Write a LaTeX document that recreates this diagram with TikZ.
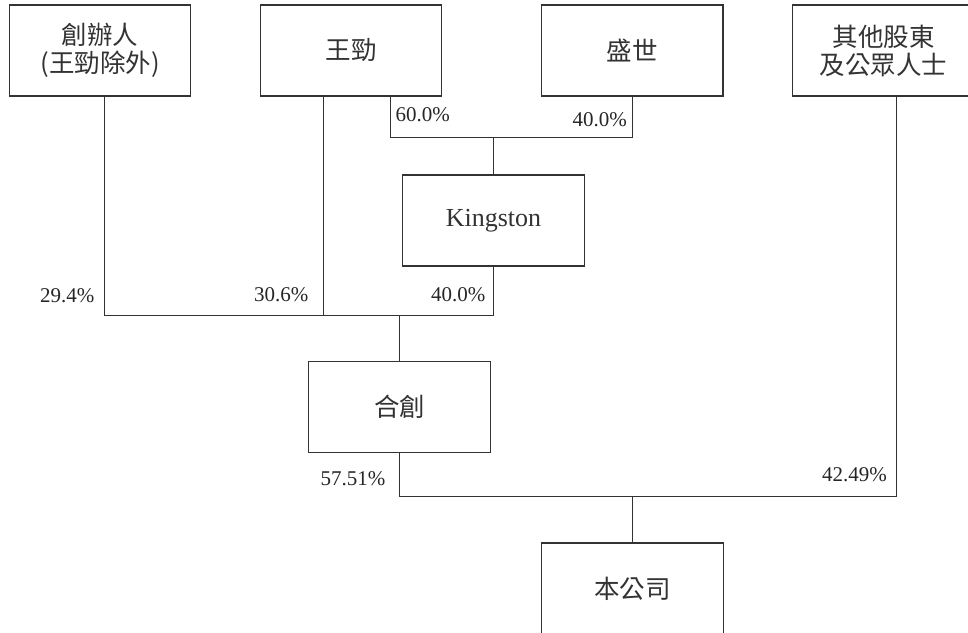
\documentclass[tikz,border=0pt]{standalone}
\usepackage{fontspec}
\setmainfont{Liberation Serif}
\newfontfamily\cjk{Noto Sans CJK TC}
\tikzset{
  box/.style={draw=black!80, line width=1.2pt, minimum width=181.5pt, minimum height=91pt,
    inner sep=0pt, align=center, font=\cjk\fontsize{25.5}{28}\selectfont, text=black!80},
  link/.style={draw=black!80, line width=1pt},
  pct/.style={font=\fontsize{21}{24}\selectfont, inner sep=0pt, text=black!85}
}
\begin{document}
\begin{tikzpicture}[x=1pt,y=-1pt]
\useasboundingbox (0,0) rectangle (968,632);
\clip (0,0) rectangle (968,632);
% boxes
\node[box] (fd) at (100,50.5) {創辦人\\(王勁除外)};
\node[box] (wj) at (351,50.5) {王勁};
\node[box] (ss) at (632.3,50.5) {盛世};
\node[box] (qt) at (883.5,50.5) {其他股東\\及公眾人士};
\node[box, font=\fontsize{26}{30}\selectfont] (ks) at (493.5,220.5) {Kingston};
\node[box] (hc) at (399.5,407) {合創};
\node[box] (bg) at (632.4,588.5) {本公司};
% junction points
\coordinate (jA) at (104,315);
\coordinate (jB) at (323,315);
\coordinate (tW) at (390.7,137);
\coordinate (bH) at (400,496.7);
\coordinate (bQ) at (896,496.7);
% connectors
\draw[link] (fd.south -| jA) -- (jA) -| (ks.south);
\draw[link] (wj.south -| jB) -- (jB);
\draw[link] (wj.south -| tW) -- (tW) -| (ss.south);
\draw[link] (ks.north |- tW) -- (ks.north);
\draw[link] (hc.north |- jA) -- (hc.north);
\draw[link] (hc.south) -- (hc.south |- bH) -- (bQ) -- (qt.south -| bQ);
\draw[link] (bg.north |- bH) -- (bg.north);
% labels
\node[pct, anchor=east] (p1) at (94.5,295.5) {29.4\%};
\node[pct, anchor=east] (p2) at (308.5,295) {30.6\%};
\node[pct, anchor=east] (p3) at (485.5,295) {40.0\%};
\node[pct, anchor=west] (p4) at (395.5,115) {60.0\%};
\node[pct, anchor=east] (p5) at (627,120) {40.0\%};
\node[pct, anchor=east] (p6) at (385.5,479) {57.51\%};
\node[pct, anchor=east] (p7) at (887,475) {42.49\%};
\end{tikzpicture}
\end{document}
